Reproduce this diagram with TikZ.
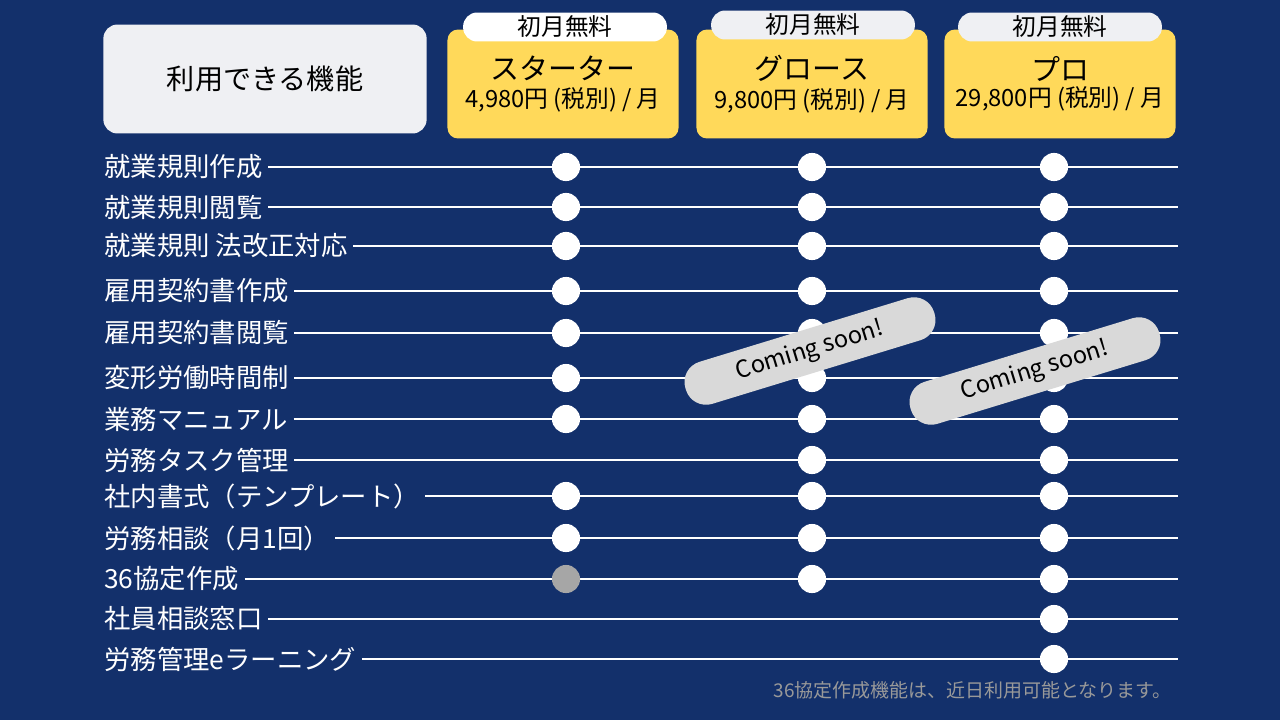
\documentclass[tikz,border=0pt]{standalone}
\usepackage{fontspec}
\setmainfont{Noto Sans CJK JP}
\usetikzlibrary{positioning}
\definecolor{navy}{HTML}{13306B}
\definecolor{plan}{HTML}{FFD95A}
\definecolor{headgray}{HTML}{EFF0F3}
\definecolor{soon}{HTML}{D9D9D9}
\tikzset{
  feature/.style={anchor=west, text=white, font=\fontsize{15}{17}\selectfont, inner sep=0pt},
  rowline/.style={draw=white, line width=0.8pt},
  dot/.style={circle, fill=white, minimum size=16pt, inner sep=0pt},
  graydot/.style={circle, fill=gray!70, minimum size=16pt, inner sep=0pt},
  planbox/.style={rectangle, rounded corners=6pt, fill=plan, minimum width=131.5pt, minimum height=62pt, align=center},
  tab/.style={rectangle, rounded corners=8pt, fill=white, minimum width=116pt, minimum height=16.5pt, inner sep=0pt, font=\fontsize{13.5}{14}\selectfont},
  badge/.style={rectangle, rounded corners=12pt, fill=soon, minimum width=148pt, minimum height=25pt, font=\fontsize{13.5}{15}\selectfont, rotate=17}
}
\begin{document}
\begin{tikzpicture}[x=0.02cm, y=-0.02cm]
        \fill[navy] (0,0) rectangle (1280,720);
        \useasboundingbox (0,0) rectangle (1280,720);

        % header
        \node[rectangle, rounded corners=8pt, fill=headgray, minimum width=184pt, minimum height=62pt, font=\fontsize{16}{18}\selectfont] (head) at (265,79) {利用できる機能};

        \node[planbox] (starter) at (563,84) {{\fontsize{16.5}{19}\selectfont スターター}\\[3pt]{\fontsize{13.5}{15}\selectfont 4,980円 (税別) / 月}};
        \node[tab] (tstarter) at (565,27) {初月無料};

        \node[planbox] (growth) at (812,84) {{\fontsize{16.5}{19}\selectfont グロース}\\[3pt]{\fontsize{13.5}{15}\selectfont 9,800円 (税別) / 月}};
        \node[tab, fill=headgray] (tgrowth) at (813,25) {初月無料};

        \node[planbox] (pro) at (1060,84) {{\fontsize{16.5}{19}\selectfont プロ}\\[3pt]{\fontsize{13.5}{15}\selectfont 29,800円 (税別) / 月}};
        \node[tab, fill=headgray] (tpro) at (1060,27) {初月無料};

        % feature rows: y / label / starter / growth / pro (0 none, 1 dot, 2 gray)
        \foreach \y/\label/\s/\g/\p [count=\i] in {
            167/就業規則作成/1/1/1,
            207/就業規則閲覧/1/1/1,
            246/就業規則 法改正対応/1/1/1,
            291/雇用契約書作成 /1/1/1,
            333/雇用契約書閲覧/1/1/1,
            378/変形労働時間制/1/1/1,
            419/業務マニュアル/1/1/1,
            460/労務タスク管理 /0/1/1,
            496/社内書式（テンプレート）/1/1/1,
            538/労務相談（月1回）/1/1/1,
            579/36協定作成 /2/1/1,
            619/社員相談窓口/0/0/1,
            659/労務管理eラーニング /0/0/1}{
            \node[feature] (f\i) at (104,\y) {\label};
            \coordinate (e\i) at (1178,\y);
            \draw[rowline] ([xshift=3pt]f\i.east) -- (e\i);
            \ifnum\s=1 \node[dot] (s\i) at (566,\y) {}; \fi
            \ifnum\s=2 \node[graydot] (s\i) at (566,\y) {}; \fi
            \ifnum\g=1 \node[dot] (g\i) at (812,\y) {}; \fi
            \ifnum\p=1 \node[dot] (p\i) at (1054,\y) {}; \fi
        }

        % coming soon badges
        \node[badge] (soon1) at (810,351) {Coming soon!};
        \node[badge] (soon2) at (1035,371) {Coming soon!};

        % footnote
        \node[anchor=east, text=gray!80, font=\fontsize{10.8}{12}\selectfont, inner sep=0pt] (note) at (1172,690) {36協定作成機能は、近日利用可能となります。};
\end{tikzpicture}
\end{document}
